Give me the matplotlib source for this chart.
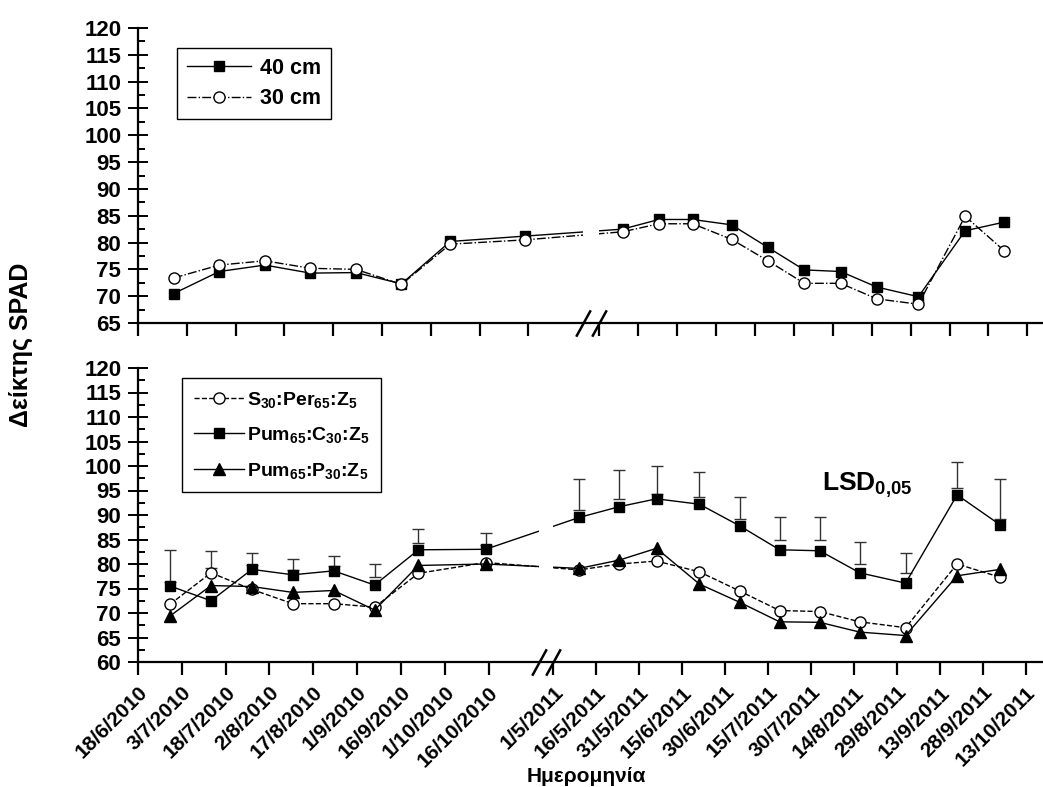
import numpy as np
import matplotlib
matplotlib.use('Agg')
import matplotlib.pyplot as plt
import matplotlib.dates as mdates
from matplotlib.ticker import MultipleLocator, NullLocator
from datetime import date

plt.rcParams['font.family'] = ['Liberation Sans', 'DejaVu Sans']
plt.rcParams['font.weight'] = 'bold'
plt.rcParams['mathtext.fontset'] = 'custom'
plt.rcParams['mathtext.rm'] = 'Liberation Sans:bold'
plt.rcParams['mathtext.it'] = 'Liberation Sans:bold'
plt.rcParams['mathtext.bf'] = 'Liberation Sans:bold'
plt.rcParams['mathtext.default'] = 'rm'

# sampling dates (two seasons)
sample_dates = [date(2010, 6, 29), date(2010, 7, 13), date(2010, 7, 27), date(2010, 8, 10),
                date(2010, 8, 24), date(2010, 9, 7), date(2010, 9, 22), date(2010, 10, 15),
                date(2011, 5, 10), date(2011, 5, 24), date(2011, 6, 6), date(2011, 6, 21),
                date(2011, 7, 5), date(2011, 7, 19), date(2011, 8, 2), date(2011, 8, 16),
                date(2011, 9, 1), date(2011, 9, 19), date(2011, 10, 4)]

# upper panel: planting distance
spad_40 = [70.5, 74.6, 75.8, 74.3, 74.4, 72.3, 80.2, 81.2, 82.5, 84.3, 84.3, 83.3,
           79.1, 74.9, 74.6, 71.7, 69.9, 82.2, 83.8]
spad_30 = [73.4, 75.8, 76.6, 75.2, 75.0, 72.2, 79.7, 80.5, 82.0, 83.5, 83.5, 80.6,
           76.6, 72.4, 72.4, 69.5, 68.5, 84.9, 78.5]

# lower panel: substrates
spad_s30 = [71.8, 78.2, 74.8, 71.9, 71.9, 71.2, 78.1, 80.3, 78.8, 80.0, 80.6, 78.4,
            74.5, 70.5, 70.3, 68.2, 67.0, 80.0, 77.3]
spad_pum_c = [75.5, 72.5, 78.9, 77.8, 78.6, 75.7, 82.9, 83.0, 89.5, 91.7, 93.3, 92.2,
              87.8, 82.9, 82.7, 78.2, 76.1, 94.1, 88.0]
spad_pum_p = [69.4, 75.6, 75.4, 74.2, 74.6, 70.6, 79.7, 80.0, 79.1, 80.8, 83.2, 75.9,
              72.2, 68.2, 68.1, 66.1, 65.4, 77.6, 78.9]

# LSD(0.05) bars, lower and upper ends
lsd_low = [76.4, 79.1, 79.8, 78.8, 79.5, 77.4, 84.2, 83.9, 91.0, 93.2, 94.3, 93.7,
           89.1, 84.9, 84.9, 80.0, 78.1, 95.6, 89.2]
lsd_high = [82.9, 82.7, 82.3, 81.1, 81.6, 80.1, 87.2, 86.3, 97.4, 99.1, 100.1, 98.7,
            93.7, 89.5, 89.5, 84.4, 82.2, 100.8, 97.3]

tick_dates = [date(2010, 6, 18), date(2010, 7, 3), date(2010, 7, 18), date(2010, 8, 2),
              date(2010, 8, 17), date(2010, 9, 1), date(2010, 9, 16), date(2010, 10, 1),
              date(2010, 10, 16), date(2011, 5, 1), date(2011, 5, 16), date(2011, 5, 31),
              date(2011, 6, 15), date(2011, 6, 30), date(2011, 7, 15), date(2011, 7, 30),
              date(2011, 8, 14), date(2011, 8, 29), date(2011, 9, 13), date(2011, 9, 28),
              date(2011, 10, 13)]
tick_labels = ['18/6/2010', '3/7/2010', '18/7/2010', '2/8/2010', '17/8/2010', '1/9/2010',
               '16/9/2010', '1/10/2010', '16/10/2010', '1/5/2011', '16/5/2011', '31/5/2011',
               '15/6/2011', '30/6/2011', '15/7/2011', '30/7/2011', '14/8/2011', '29/8/2011',
               '13/9/2011', '28/9/2011', '13/10/2011']

# broken time axis: winter gap squeezed between these dates
scale_dates = [date(2010, 6, 18), date(2010, 10, 16), date(2011, 5, 1), date(2011, 10, 13)]
top_scale_pos = [138, 529, 600, 1029]
bot_scale_pos = [138, 489, 554, 1027]
gap_span = (date(2011, 3, 18), date(2011, 5, 1))
x_range = (date(2010, 6, 18), date(2011, 10, 19))

W, H = 1043, 787
fig = plt.figure(figsize=(W / 100, H / 100), dpi=100)
ax_top = fig.add_axes([138 / W, 1 - 323 / H, 905 / W, 295 / H])
ax_bot = fig.add_axes([138 / W, 1 - 662 / H, 905 / W, 294 / H])


def broken_scale(pos):
    d = mdates.date2num(scale_dates)
    p = np.asarray(pos, float)
    s0 = (p[1] - p[0]) / (d[1] - d[0])
    s1 = (p[-1] - p[-2]) / (d[-1] - d[-2])
    d = np.r_[d[0] - 5000, d, d[-1] + 5000]
    p = np.r_[p[0] - 5000 * s0, p, p[-1] + 5000 * s1]
    return (lambda x: np.interp(x, d, p)), (lambda y: np.interp(y, p, d))


slash = [(-0.55, -1), (0.55, 1)]


def style_axes(ax, pos, ymin, show_labels):
    ax.set_xscale('function', functions=broken_scale(pos))
    ax.set_xlim(mdates.date2num(x_range[0]), mdates.date2num(x_range[1]))
    ax.set_xticks(mdates.date2num(tick_dates))
    if show_labels:
        ax.set_xticklabels(tick_labels, rotation=45, ha='right', va='top',
                           rotation_mode='anchor', fontsize=15, fontweight='bold')
    else:
        ax.set_xticklabels([])
    ax.xaxis.set_minor_locator(NullLocator())
    ax.set_ylim(ymin, 120)
    ax.yaxis.set_major_locator(MultipleLocator(5))
    ax.yaxis.set_minor_locator(MultipleLocator(2.5))
    for lab in ax.get_yticklabels():
        lab.set_fontsize(16)
        lab.set_fontweight('bold')
    ax.spines['top'].set_visible(False)
    ax.spines['right'].set_visible(False)
    ax.spines['left'].set_linewidth(1.6)
    ax.spines['bottom'].set_linewidth(1.6)
    ax.tick_params(axis='x', which='major', direction='out', length=9, width=1.6, pad=6)
    ax.tick_params(axis='y', which='major', direction='inout', length=14, width=1.4, pad=5)
    ax.tick_params(axis='y', which='minor', direction='in', length=5, width=1.4)
    # white gap over the winter months, then the // marks
    ax.axvspan(mdates.date2num(gap_span[0]), mdates.date2num(gap_span[1]),
               color='white', lw=0, zorder=2.3)
    ax.plot(mdates.date2num(list(gap_span)), [0, 0], transform=ax.get_xaxis_transform(),
            ls='none', marker=slash, markersize=19, mew=1.8, color='black',
            clip_on=False, zorder=5)


x = mdates.date2num(sample_dates)

ax_top.plot(x, spad_40, '-', color='black', lw=1, marker='s', ms=7, label='40 cm')
ax_top.plot(x, spad_30, '-.', color='black', lw=1, marker='o', ms=8,
            mfc='white', label='30 cm')
style_axes(ax_top, top_scale_pos, 65, False)
ax_top.legend(loc='upper left', bbox_to_anchor=(0.043, 0.932), borderaxespad=0,
              frameon=True, fancybox=False, edgecolor='black', framealpha=1,
              prop={'size': 15.5, 'weight': 'bold'}, handlelength=3.0, labelspacing=0.45,
              borderpad=0.45, handletextpad=0.4)

lsd_low_a = np.array(lsd_low)
lsd_high_a = np.array(lsd_high)
ax_bot.errorbar(x, lsd_low_a, yerr=[np.zeros_like(lsd_low_a), lsd_high_a - lsd_low_a],
                fmt='none', ecolor='#333333', elinewidth=1, capsize=4, capthick=1)
ax_bot.plot(x, spad_s30, '--', color='black', lw=1, marker='o', ms=8, mfc='white',
            label=r'S$_{30}$:Per$_{65}$:Z$_5$')
ax_bot.plot(x, spad_pum_c, '-', color='black', lw=1, marker='s', ms=7,
            label=r'Pum$_{65}$:C$_{30}$:Z$_5$')
ax_bot.plot(x, spad_pum_p, '-', color='black', lw=1, marker='^', ms=8,
            label=r'Pum$_{65}$:P$_{30}$:Z$_5$')
style_axes(ax_bot, bot_scale_pos, 60, True)
ax_bot.legend(loc='upper left', bbox_to_anchor=(0.0486, 0.966), borderaxespad=0,
              frameon=True, fancybox=False, edgecolor='black', framealpha=1,
              prop={'size': 14, 'weight': 'bold'}, handlelength=2.6, labelspacing=0.8,
              borderpad=0.6, handletextpad=0.15)
ax_bot.text(0.756, 0.582, r'LSD$_{0{,}05}$', transform=ax_bot.transAxes,
            fontsize=19, fontweight='bold', va='baseline', ha='left')

fig.text(0.020, 1 - 345 / H, 'Δείκτης SPAD', rotation=90, ha='center', va='center',
         fontsize=18, fontweight='bold')
fig.text(586 / W, 1 - 776 / H, 'Ημερομηνία', ha='center', va='center',
         fontsize=15, fontweight='bold')

fig.savefig('out.png', dpi=100)
